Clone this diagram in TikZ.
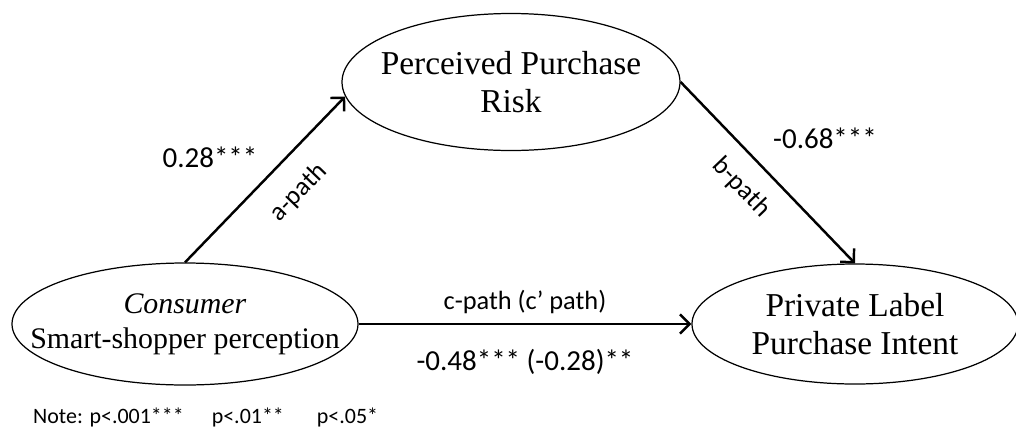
\documentclass[tikz,border=0pt]{standalone}
\usepackage{fontspec}
\setmainfont{Liberation Serif}
\newfontfamily\calibri{Carlito}
\usetikzlibrary{shapes.geometric,arrows.meta}

\begin{document}
\begin{tikzpicture}[
latent/.style = {ellipse, draw, line width=0.7pt, inner sep=0pt},
link/.style = {line width=1.4pt, -{Straight Barb[length=5.5pt,width=11pt]}},
coef/.style = {font=\calibri\fontsize{16.5}{20}\selectfont},
pathname/.style = {font=\calibri\fontsize{15}{18}\selectfont}
]
\def\yb{2.08} % height of the bottom row
\useasboundingbox (0,0) rectangle (20.32,8.56);

% the three constructs (text as centre label, so the ellipse keeps its size)
\node[latent, minimum width=6.92cm, minimum height=2.44cm,
  label={[align=center, font=\fontsize{17}{20}\selectfont]center:\textit{Consumer}\\Smart-shopper perception}] (smart) at (3.70,\yb) {};
\node[latent, minimum width=6.76cm, minimum height=2.74cm,
  label={[align=center, font=\fontsize{19}{22}\selectfont]center:Perceived Purchase\\Risk}] (risk) at (10.22,6.92) {};
\node[latent, minimum width=6.52cm, minimum height=2.40cm,
  label={[align=center, font=\fontsize{19}{21.5}\selectfont]center:Private Label\\Purchase Intent}] (intent) at (17.10,\yb) {};

% paths
\draw[link] (smart.north) -- node[pathname, pos=0.56, sloped, below=0.3cm] {a-path} (risk.185);
\draw[link] (risk.east) -- node[pathname, pos=0.47, sloped, below=0.22cm] {b-path} (intent.north);
\draw[link] (smart) -- node[pathname, midway, yshift=0.44cm] {c-path (c’ path)}
  node[coef, midway, yshift=-0.76cm] {-0.48*** (-0.28)**} (intent);

% coefficients
\node[coef] (acoef) at (4.20,5.42) {0.28***};
\node[coef] (bcoef) at (16.50,5.80) {-0.68***};

\node[anchor=west, font=\calibri\fontsize{12.5}{15}\selectfont] (note) at (0.54,0.22) {Note: p<.001***\hspace{0.56cm}p<.01**\hspace{0.66cm}p<.05*};
\end{tikzpicture}
\end{document}
